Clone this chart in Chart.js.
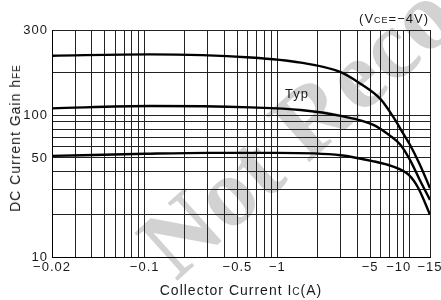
<!DOCTYPE html>
<html>
<head>
<meta charset="utf-8">
<script src="https://cdn.jsdelivr.net/npm/chart.js@4.4.0/dist/chart.umd.min.js"></script>
<style>
  html, body { margin: 0; padding: 0; background: #fff; }
  #wrap { position: relative; width: 441px; height: 300px; overflow: hidden;
          font-family: "Liberation Sans", Arial, sans-serif; color: #1a1a1a; letter-spacing: 1px; }
  #chart { position: absolute; left: 0; top: 0; }
  .lbl { position: absolute; white-space: nowrap; font-size: 13px; line-height: 1; }
  .lbl small { font-size: 9px; }
  .title { font-size: 14px; }
  .title small { font-size: 10px; }
  #condition { right: 12px; top: 12px; }
  #typ { left: 297px; top: 87px; transform: translateX(-50%); }
  #xTitle { left: 241px; top: 283px; transform: translateX(-50%); }
  #yTitle { left: 15px; top: 138px; transform: translate(-50%, -50%) rotate(-90deg); }
</style>
</head>
<body>
<div id="wrap">
  <canvas id="chart" width="441" height="300"></canvas>
  <div class="lbl" id="condition">(V<small>CE</small>=−4V)</div>
  <div class="lbl" id="typ">Typ</div>
  <div class="lbl title" id="xTitle">Collector Current I<small>C</small>(A)</div>
  <div class="lbl title" id="yTitle">DC Current Gain h<small>FE</small></div>
</div>
<script>
// grid / tick values (collector current shown as magnitude, labelled negative)
const xGridValues = [0.02, 0.03, 0.04, 0.05, 0.06, 0.07, 0.08, 0.09,
  0.1, 0.2, 0.3, 0.4, 0.5, 0.6, 0.7, 0.8, 0.9,
  1, 2, 3, 4, 5, 6, 7, 8, 9, 10, 15];
const xLabelValues = [0.02, 0.1, 0.5, 1, 5, 10, 15];
const yGridValues = [10, 20, 30, 40, 50, 60, 70, 80, 90, 100, 200, 300];
const yLabelValues = [10, 50, 100, 300];

// curves
const maxCurrent = [0.02, 0.11, 0.63, 1.5, 3.0, 4.2, 6.0, 7.5, 9.0, 10, 12.2, 15];
const maxGain = [235, 238, 231, 220, 201, 168, 130, 97, 73, 62, 45, 30.6];
const typCurrent = [0.02, 0.11, 0.63, 1.5, 3.0, 5.3, 7.1, 8.5, 10, 12.2, 15];
const typGain = [112, 116.5, 113.7, 109, 99, 85.6, 71.6, 61.8, 48.5, 35, 25.3];
const minCurrent = [0.02, 0.1, 0.3, 1, 3, 5.4, 7.2, 9.8, 11.8, 15];
const minGain = [51.7, 53.5, 54.3, 54.3, 52.3, 47.2, 44, 38, 30.8, 19.9];

// log scale whose last segment (bandFrom..max) gets a fixed share of the axis,
// like the printed graph paper
class BandedLogScale extends Chart.LogarithmicScale {
  static id = "bandedLog";

  toDecimal(value) {
    const o = this.options;
    const lo = Math.log10(this.min);
    const hi = Math.log10(this.max);
    const mid = Math.log10(o.bandFrom);
    const lv = Math.log10(value);
    const main = 1 - o.bandShare;
    if (lv <= mid) return main * (lv - lo) / (mid - lo);
    return main + o.bandShare * (lv - mid) / (hi - mid);
  }

  getPixelForValue(value) {
    if (value === undefined || value <= 0) value = this.min;
    if (value === null || isNaN(value)) return NaN;
    return this.getPixelForDecimal(this.toDecimal(value));
  }

  getValueForPixel(pixel) {
    const o = this.options;
    const d = this.getDecimalForPixel(pixel);
    const lo = Math.log10(this.min);
    const hi = Math.log10(this.max);
    const mid = Math.log10(o.bandFrom);
    const main = 1 - o.bandShare;
    if (d <= main) return Math.pow(10, lo + (d / main) * (mid - lo));
    return Math.pow(10, mid + ((d - main) / o.bandShare) * (hi - mid));
  }
}
Chart.register(BandedLogScale);

function toPoints(xs, ys) {
  return xs.map((x, i) => ({ x: x, y: ys[i] }));
}

function curve(xs, ys) {
  return {
    data: toPoints(xs, ys),
    borderColor: "#000",
    borderWidth: 2.4,
    pointRadius: 0,
    fill: false,
    cubicInterpolationMode: "monotone"
  };
}

const watermark = {
  id: "watermark",
  beforeDraw(chart) {
    const ctx = chart.ctx;
    ctx.save();
    ctx.letterSpacing = "0px";
    ctx.translate(176, 282);
    ctx.rotate(-42 * Math.PI / 180);
    ctx.font = 'bold 98px "Liberation Serif", serif';
    ctx.fillStyle = "#d2d2d2";
    ctx.textBaseline = "alphabetic";
    ctx.fillText("Not Recommended", 0, 0);
    ctx.restore();
    ctx.letterSpacing = "1px";
  }
};

Chart.defaults.font.family = '"Liberation Sans", Arial, sans-serif';
Chart.defaults.font.size = 13;
Chart.defaults.color = "#1a1a1a";

new Chart(document.getElementById("chart"), {
  type: "line",
  data: {
    datasets: [
      curve(maxCurrent, maxGain),
      curve(typCurrent, typGain),
      curve(minCurrent, minGain)
    ]
  },
  plugins: [watermark],
  options: {
    responsive: false,
    animation: false,
    layout: { padding: { top: 30, right: 11, left: 0, bottom: 0 } },
    plugins: { legend: { display: false }, tooltip: { enabled: false } },
    scales: {
      x: {
        type: "bandedLog",
        min: 0.02,
        max: 15,
        bandFrom: 10,
        bandShare: 0.053,
        afterBuildTicks: (scale) => {
          scale.ticks = xGridValues.map((v) => ({ value: v }));
        },
        afterFit: (scale) => {
          scale.height = 43;
          scale.paddingLeft = 0;
          scale.paddingRight = 0;
        },
        ticks: {
          autoSkip: false,
          maxRotation: 0,
          minRotation: 0,
          padding: 3,
          callback: (value) => {
            if (!xLabelValues.includes(value)) return "";
            return value === 10 ? "\u221210\u2002\u2002\u2002" : "\u2212" + value;
          }
        },
        grid: { color: "#222", lineWidth: 1, drawTicks: false },
        border: { color: "#000", width: 1 }
      },
      y: {
        type: "bandedLog",
        min: 10,
        max: 300,
        bandFrom: 200,
        bandShare: 0.188,
        afterBuildTicks: (scale) => {
          scale.ticks = yGridValues.map((v) => ({ value: v }));
        },
        afterFit: (scale) => {
          scale.width = 52;
        },
        ticks: {
          autoSkip: false,
          padding: 4,
          callback: (value) => (yLabelValues.includes(value) ? String(value) : "")
        },
        grid: { color: "#222", lineWidth: 1, drawTicks: false },
        border: { color: "#000", width: 1 }
      }
    }
  }
});
</script>
</body>
</html>
